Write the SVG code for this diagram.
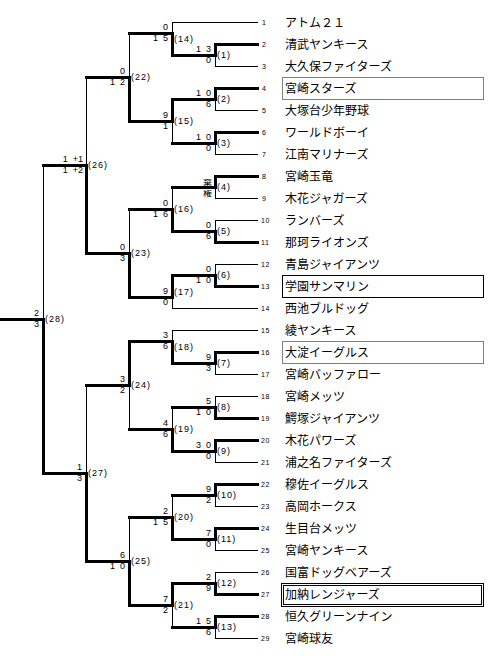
<svg xmlns="http://www.w3.org/2000/svg" width="500" height="661" viewBox="0 0 500 661">
<style>
.k{stroke:#000;stroke-width:3;fill:none;stroke-linecap:square}
.t{stroke:#000;stroke-width:1;fill:none;stroke-linecap:square}
.num{font-family:"Liberation Sans",Arial,sans-serif;font-size:7px;letter-spacing:0.6px;fill:#000}
.nm{font-family:"Noto Sans CJK JP","Noto Sans CJK SC",sans-serif;font-size:12px;fill:#000}
.sc{font-family:"Liberation Sans",Arial,sans-serif;font-size:9px;fill:#000;text-anchor:end;word-spacing:2.5px}
.kk{font-family:"Noto Sans CJK JP","Noto Sans CJK SC",sans-serif;font-size:9px;fill:#000;text-anchor:end}
.ml{font-family:"Liberation Sans",Arial,sans-serif;font-size:9px;letter-spacing:1px;fill:#000}
.box{fill:none;stroke:#000;stroke-width:1}
.dot{fill:none;stroke:#000;stroke-width:1;stroke-dasharray:1,1}
</style>
<rect width="500" height="661" fill="#fff"/>
<g id="connectors" transform="translate(0.5,0.5)">
<path class="t" d="M172 22H257"/><path class="k" d="M215 44H257"/><path class="t" d="M215 66H257"/>
<path class="k" d="M215 88H257"/><path class="t" d="M215 110H257"/><path class="k" d="M215 132H257"/>
<path class="t" d="M215 154H257"/><path class="k" d="M215 176H257"/><path class="t" d="M215 198H257"/>
<path class="t" d="M215 220H257"/><path class="k" d="M215 242H257"/><path class="t" d="M215 264H257"/>
<path class="k" d="M215 286H257"/><path class="t" d="M172 308H257"/><path class="t" d="M172 330H257"/>
<path class="k" d="M215 352H257"/><path class="t" d="M215 374H257"/><path class="t" d="M215 396H257"/>
<path class="k" d="M215 418H257"/><path class="k" d="M215 440H257"/><path class="t" d="M215 462H257"/>
<path class="k" d="M215 484H257"/><path class="t" d="M215 506H257"/><path class="k" d="M215 528H257"/>
<path class="t" d="M215 550H257"/><path class="t" d="M215 572H257"/><path class="k" d="M215 594H257"/>
<path class="k" d="M215 616H257"/><path class="t" d="M215 638H257"/>
<path class="k" d="M172 55H215"/><path class="k" d="M172 99H215"/><path class="k" d="M172 143H215"/>
<path class="k" d="M172 187H215"/><path class="k" d="M172 231H215"/><path class="k" d="M172 275H215"/>
<path class="k" d="M172 363H215"/><path class="k" d="M172 407H215"/><path class="k" d="M172 451H215"/>
<path class="k" d="M172 495H215"/><path class="k" d="M172 539H215"/><path class="k" d="M172 583H215"/>
<path class="k" d="M172 627H215"/>
<path class="k" d="M129 33H172"/><path class="k" d="M129 121H172"/><path class="k" d="M129 209H172"/>
<path class="k" d="M129 297H172"/><path class="k" d="M129 341H172"/><path class="k" d="M129 429H172"/>
<path class="k" d="M129 517H172"/><path class="k" d="M129 605H172"/>
<path class="k" d="M86 77H129"/><path class="k" d="M86 253H129"/><path class="k" d="M86 385H129"/><path class="k" d="M86 561H129"/>
<path class="k" d="M43 165H86"/><path class="k" d="M43 473H86"/>
<path class="k" d="M0 319H43"/>
<path class="k" d="M215 44V55"/><path class="t" d="M215 55V66"/>
<path class="k" d="M215 88V99"/><path class="t" d="M215 99V110"/>
<path class="k" d="M215 132V143"/><path class="t" d="M215 143V154"/>
<path class="k" d="M215 176V187"/><path class="t" d="M215 187V198"/>
<path class="t" d="M215 220V231"/><path class="k" d="M215 231V242"/>
<path class="t" d="M215 264V275"/><path class="k" d="M215 275V286"/>
<path class="k" d="M215 352V363"/><path class="t" d="M215 363V374"/>
<path class="t" d="M215 396V407"/><path class="k" d="M215 407V418"/>
<path class="k" d="M215 440V451"/><path class="t" d="M215 451V462"/>
<path class="k" d="M215 484V495"/><path class="t" d="M215 495V506"/>
<path class="k" d="M215 528V539"/><path class="t" d="M215 539V550"/>
<path class="t" d="M215 572V583"/><path class="k" d="M215 583V594"/>
<path class="k" d="M215 616V627"/><path class="t" d="M215 627V638"/>
<path class="t" d="M172 22V33"/><path class="k" d="M172 33V55"/>
<path class="k" d="M172 99V121"/><path class="t" d="M172 121V143"/>
<path class="t" d="M172 187V209"/><path class="k" d="M172 209V231"/>
<path class="k" d="M172 275V297"/><path class="t" d="M172 297V308"/>
<path class="t" d="M172 330V341"/><path class="k" d="M172 341V363"/>
<path class="t" d="M172 407V429"/><path class="k" d="M172 429V451"/>
<path class="t" d="M172 495V517"/><path class="k" d="M172 517V539"/>
<path class="k" d="M172 583V605"/><path class="t" d="M172 605V627"/>
<path class="t" d="M129 33V77"/><path class="k" d="M129 77V121"/>
<path class="t" d="M129 209V253"/><path class="k" d="M129 253V297"/>
<path class="k" d="M129 341V385"/><path class="t" d="M129 385V429"/>
<path class="t" d="M129 517V561"/><path class="k" d="M129 561V605"/>
<path class="t" d="M86 77V165"/><path class="k" d="M86 165V253"/>
<path class="t" d="M86 385V473"/><path class="k" d="M86 473V561"/>
<path class="t" d="M43 165V319"/><path class="k" d="M43 319V473"/>
</g>
<g id="teams">
<g id="team1"><text class="num" x="262" y="24.5">1</text><text class="nm" x="285" y="26.5">アトム２１</text></g>
<g id="team2"><text class="num" x="262" y="46.5">2</text><text class="nm" x="285" y="48.5">清武ヤンキース</text></g>
<g id="team3"><text class="num" x="262" y="68.5">3</text><text class="nm" x="285" y="70.5">大久保ファイターズ</text></g>
<g id="team4"><rect class="dot" x="282.5" y="77.5" width="201" height="22"/><text class="num" x="262" y="90.5">4</text><text class="nm" x="285" y="92.5">宮崎スターズ</text></g>
<g id="team5"><text class="num" x="262" y="112.5">5</text><text class="nm" x="285" y="114.5">大塚台少年野球</text></g>
<g id="team6"><text class="num" x="262" y="134.5">6</text><text class="nm" x="285" y="136.5">ワールドボーイ</text></g>
<g id="team7"><text class="num" x="262" y="156.5">7</text><text class="nm" x="285" y="158.5">江南マリナーズ</text></g>
<g id="team8"><text class="num" x="262" y="178.5">8</text><text class="nm" x="285" y="180.5">宮崎玉竜</text></g>
<g id="team9"><text class="num" x="262" y="200.5">9</text><text class="nm" x="285" y="202.5">木花ジャガーズ</text></g>
<g id="team10"><text class="num" x="261" y="222.5">10</text><text class="nm" x="285" y="224.5">ランバーズ</text></g>
<g id="team11"><text class="num" x="261" y="244.5">11</text><text class="nm" x="285" y="246.5">那珂ライオンズ</text></g>
<g id="team12"><text class="num" x="261" y="266.5">12</text><text class="nm" x="285" y="268.5">青島ジャイアンツ</text></g>
<g id="team13"><rect class="box" x="282.5" y="275.5" width="201" height="22"/><text class="num" x="261" y="288.5">13</text><text class="nm" x="285" y="290.5">学園サンマリン</text></g>
<g id="team14"><text class="num" x="261" y="310.5">14</text><text class="nm" x="285" y="312.5">西池ブルドッグ</text></g>
<g id="team15"><text class="num" x="261" y="332.5">15</text><text class="nm" x="285" y="334.5">綾ヤンキース</text></g>
<g id="team16"><rect class="dot" x="282.5" y="341.5" width="201" height="22"/><text class="num" x="261" y="354.5">16</text><text class="nm" x="285" y="356.5">大淀イーグルス</text></g>
<g id="team17"><text class="num" x="261" y="376.5">17</text><text class="nm" x="285" y="378.5">宮崎バッファロー</text></g>
<g id="team18"><text class="num" x="261" y="398.5">18</text><text class="nm" x="285" y="400.5">宮崎メッツ</text></g>
<g id="team19"><text class="num" x="261" y="420.5">19</text><text class="nm" x="285" y="422.5">鰐塚ジャイアンツ</text></g>
<g id="team20"><text class="num" x="261" y="442.5">20</text><text class="nm" x="285" y="444.5">木花パワーズ</text></g>
<g id="team21"><text class="num" x="261" y="464.5">21</text><text class="nm" x="285" y="466.5">浦之名ファイターズ</text></g>
<g id="team22"><text class="num" x="261" y="486.5">22</text><text class="nm" x="285" y="488.5">穆佐イーグルス</text></g>
<g id="team23"><text class="num" x="261" y="508.5">23</text><text class="nm" x="285" y="510.5">高岡ホークス</text></g>
<g id="team24"><text class="num" x="261" y="530.5">24</text><text class="nm" x="285" y="532.5">生目台メッツ</text></g>
<g id="team25"><text class="num" x="261" y="552.5">25</text><text class="nm" x="285" y="554.5">宮崎ヤンキース</text></g>
<g id="team26"><text class="num" x="261" y="574.5">26</text><text class="nm" x="285" y="576.5">国富ドッグベアーズ</text></g>
<g id="team27"><rect class="box" x="281.5" y="583.5" width="202" height="23"/><rect class="box" x="283.5" y="585.5" width="198" height="19"/><text class="num" x="261" y="596.5">27</text><text class="nm" x="285" y="598.5">加納レンジャーズ</text></g>
<g id="team28"><text class="num" x="261" y="618.5">28</text><text class="nm" x="285" y="620.5">恒久グリーンナイン</text></g>
<g id="team29"><text class="num" x="261" y="640.5">29</text><text class="nm" x="285" y="642.5">宮崎球友</text></g>
</g>
<g id="matches">
<g id="m1"><text class="sc" x="211" y="52">1 3</text><text class="sc" x="211" y="63">0</text><text class="ml" x="217" y="58">(1)</text></g>
<g id="m2"><text class="sc" x="211" y="96">1 0</text><text class="sc" x="211" y="107">6</text><text class="ml" x="217" y="102">(2)</text></g>
<g id="m3"><text class="sc" x="211" y="140">1 0</text><text class="sc" x="211" y="151">0</text><text class="ml" x="217" y="146">(3)</text></g>
<g id="m4"><text class="kk" transform="translate(212,185) scale(1,0.78)">棄</text><text class="kk" transform="translate(212,196) scale(1,0.78)">権</text><text class="ml" x="217" y="190">(4)</text></g>
<g id="m5"><text class="sc" x="211" y="228">0</text><text class="sc" x="211" y="239">6</text><text class="ml" x="217" y="234">(5)</text></g>
<g id="m6"><text class="sc" x="211" y="272">0</text><text class="sc" x="211" y="283">1 0</text><text class="ml" x="217" y="278">(6)</text></g>
<g id="m7"><text class="sc" x="211" y="360">9</text><text class="sc" x="211" y="371">3</text><text class="ml" x="217" y="366">(7)</text></g>
<g id="m8"><text class="sc" x="211" y="404">5</text><text class="sc" x="211" y="415">1 0</text><text class="ml" x="217" y="410">(8)</text></g>
<g id="m9"><text class="sc" x="211" y="448">3 0</text><text class="sc" x="211" y="459">0</text><text class="ml" x="217" y="454">(9)</text></g>
<g id="m10"><text class="sc" x="211" y="492">9</text><text class="sc" x="211" y="503">2</text><text class="ml" x="217" y="498">(10)</text></g>
<g id="m11"><text class="sc" x="211" y="536">7</text><text class="sc" x="211" y="547">0</text><text class="ml" x="217" y="542">(11)</text></g>
<g id="m12"><text class="sc" x="211" y="580">2</text><text class="sc" x="211" y="591">9</text><text class="ml" x="217" y="586">(12)</text></g>
<g id="m13"><text class="sc" x="211" y="624">1 5</text><text class="sc" x="211" y="635">6</text><text class="ml" x="217" y="630">(13)</text></g>
<g id="m14"><text class="sc" x="168" y="30">0</text><text class="sc" x="168" y="41">1 5</text><text class="ml" x="174" y="42">(14)</text></g>
<g id="m15"><text class="sc" x="168" y="118">9</text><text class="sc" x="168" y="129">1</text><text class="ml" x="174" y="124">(15)</text></g>
<g id="m16"><text class="sc" x="168" y="206">0</text><text class="sc" x="168" y="217">1 6</text><text class="ml" x="174" y="212">(16)</text></g>
<g id="m17"><text class="sc" x="168" y="294">9</text><text class="sc" x="168" y="305">0</text><text class="ml" x="174" y="295">(17)</text></g>
<g id="m18"><text class="sc" x="168" y="338">3</text><text class="sc" x="168" y="349">6</text><text class="ml" x="174" y="350">(18)</text></g>
<g id="m19"><text class="sc" x="168" y="426">4</text><text class="sc" x="168" y="437">6</text><text class="ml" x="174" y="432">(19)</text></g>
<g id="m20"><text class="sc" x="168" y="514">2</text><text class="sc" x="168" y="525">1 5</text><text class="ml" x="174" y="520">(20)</text></g>
<g id="m21"><text class="sc" x="168" y="602">7</text><text class="sc" x="168" y="613">2</text><text class="ml" x="174" y="608">(21)</text></g>
<g id="m22"><text class="sc" x="125" y="74">0</text><text class="sc" x="125" y="85">1 2</text><text class="ml" x="131" y="80">(22)</text></g>
<g id="m23"><text class="sc" x="125" y="250">0</text><text class="sc" x="125" y="261">3</text><text class="ml" x="131" y="256">(23)</text></g>
<g id="m24"><text class="sc" x="125" y="382">3</text><text class="sc" x="125" y="393">2</text><text class="ml" x="131" y="388">(24)</text></g>
<g id="m25"><text class="sc" x="125" y="558">6</text><text class="sc" x="125" y="569">1 0</text><text class="ml" x="131" y="564">(25)</text></g>
<g id="m26"><text class="sc" x="83" y="162">1 +1</text><text class="sc" x="83" y="173">1 +2</text><text class="ml" x="88" y="168">(26)</text></g>
<g id="m27"><text class="sc" x="82" y="470">1</text><text class="sc" x="82" y="481">3</text><text class="ml" x="88" y="476">(27)</text></g>
<g id="m28"><text class="sc" x="39" y="316">2</text><text class="sc" x="39" y="327">3</text><text class="ml" x="45" y="322">(28)</text></g>
</g>
</svg>
